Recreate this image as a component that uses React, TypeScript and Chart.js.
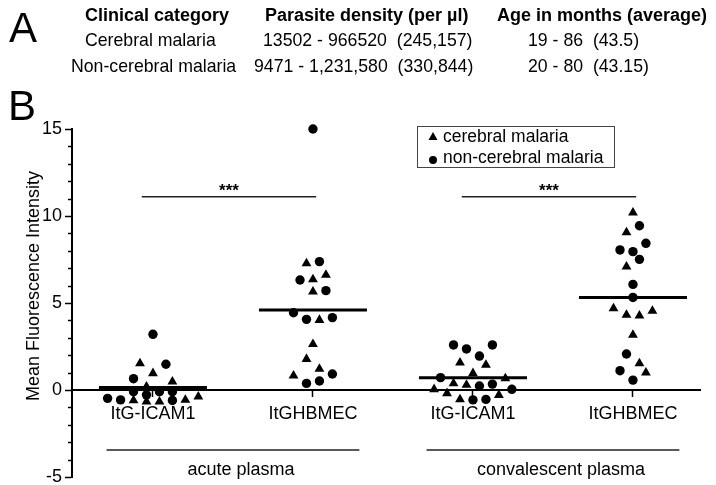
import React, { useEffect, useRef } from 'react';
import { Chart, registerables } from 'chart.js';

Chart.register(...registerables);

const FONT = '"Liberation Sans", Arial, Helvetica, sans-serif';

// ---------- Panel A (table) ----------
const tableHeaders = ['Clinical category', 'Parasite density (per µl)', 'Age in months (average)'];
const tableRowCerebral = ['Cerebral malaria', '13502 - 966520  (245,157)', '19 - 86  (43.5)'];
const tableRowNonCerebral = ['Non-cerebral malaria', '9471 - 1,231,580  (330,844)', '20 - 80  (43.15)'];

// ---------- Panel B (dot plot) ----------
const categories = ['ItG-ICAM1', 'ItGHBMEC', 'ItG-ICAM1', 'ItGHBMEC'];
const plasmaGroups = ['acute plasma', 'convalescent plasma'];
const seriesNames = ['cerebral malaria', 'non-cerebral malaria'];
const yMajorTicks = [-5, 0, 5, 10, 15];
const yTitle = 'Mean Fluorescence Intensity';

// values (MFI) and dot-plot column (in dot widths, relative to the category centre)
const cmAcuteIcam = [1.53, 0.96, 0.48, 0.19, -0.6, -0.67, -0.67, -0.57, -0.38];
const cmAcuteIcamCol = [-1, 0, 1.5, -0.5, -1.5, -0.5, 0.5, 2.5, 3.5];
const ncmAcuteIcam = [3.2, 1.48, 0.65, -0.1, -0.28, -0.1, -0.1, -0.48, -0.57, -0.6];
const ncmAcuteIcamCol = [0, 1, -1.5, -1.5, -0.5, 0.5, 1.5, -3.5, -2.5, 1.5];

const cmAcuteHbmec = [7.28, 6.36, 6.61, 5.65, 4.02, 2.63, 1.78, 0.82, 1.21];
const cmAcuteHbmecCol = [-0.5, 0, 1, 0, 0.5, 0, -0.5, -1.5, 0.5];
const ncmAcuteHbmec = [15.0, 7.38, 6.32, 5.71, 4.44, 4.06, 4.16, 0.92, 0.38, 0.52];
const ncmAcuteHbmecCol = [0, 0.5, -1, 1, -1.5, -0.5, 1.5, 1.5, -0.5, 0.5];

const cmConvIcam = [1.57, 1.44, 0.96, 0.67, 0.38, 0.29, 0.04, -0.19, -0.29, -0.54];
const cmConvIcamCol = [-1, 1, 0, 2.5, -1.5, -0.5, -3, -2, 2, -1];
const ncmConvIcam = [2.59, 2.36, 2.59, 1.95, 0.71, 0.23, 0.34, 0.04, -0.57, -0.54];
const ncmConvIcamCol = [-1.5, -0.5, 1.5, 0.5, -2.5, 0.5, 1.5, 3, 0, 1];

const cmConvHbmec = [10.19, 9.06, 7.09, 4.69, 4.31, 4.27, 4.54, 3.16, 1.53, 1.0];
const cmConvHbmecCol = [0, -0.5, -0.5, -1.5, -0.5, 0.5, 1.5, 0, 0.5, 1];
const ncmConvHbmec = [9.44, 8.43, 8.05, 7.95, 7.51, 6.07, 5.32, 2.07, 1.11, 0.57];
const ncmConvHbmecCol = [0.5, 1, -1, 0, 0.5, 0, 0, -0.5, -1, 0];

const groupMeans = [0.15, 4.6, 0.71, 5.32];
const sigPairs = [[1, 2], [3, 4]];
const sigLevel = 11.1;
const sigLabel = '***';
const bracketLevel = -3.45;

const cerebralGroups = [
  [cmAcuteIcam, cmAcuteIcamCol],
  [cmAcuteHbmec, cmAcuteHbmecCol],
  [cmConvIcam, cmConvIcamCol],
  [cmConvHbmec, cmConvHbmecCol],
];
const nonCerebralGroups = [
  [ncmAcuteIcam, ncmAcuteIcamCol],
  [ncmAcuteHbmec, ncmAcuteHbmecCol],
  [ncmConvIcam, ncmConvIcamCol],
  [ncmConvHbmec, ncmConvHbmecCol],
];

const DOT = 0.081; // one dot width in category units
const MEAN_HALF = 0.3375;
const BRACKET_EXT = 0.29;

function toPoints(groups: any[]) {
  const out: any[] = [];
  groups.forEach(([vals, cols]: any, gi: number) => {
    vals.forEach((v: number, i: number) => out.push({ x: gi + 1 + cols[i] * DOT, y: v }));
  });
  return out;
}

const annotate = {
  id: 'annotate',
  afterDraw(chart: any) {
    const { ctx, scales, chartArea } = chart;
    const xs = scales.x;
    const ys = scales.y;
    ctx.save();
    ctx.fillStyle = '#000';

    // panel letters
    ctx.textBaseline = 'alphabetic';
    ctx.textAlign = 'left';
    ctx.font = `42px ${FONT}`;
    ctx.fillText('A', 9, 42);
    ctx.fillText('B', 8, 120);

    // table
    ctx.font = `bold 18px ${FONT}`;
    ctx.textBaseline = 'middle';
    const hx = [85, 265, 497];
    tableHeaders.forEach((t, i) => ctx.fillText(t, hx[i], 16));
    ctx.font = `17.7px ${FONT}`;
    const r1 = [85, 263, 528];
    tableRowCerebral.forEach((t, i) => ctx.fillText(t, r1[i], 41));
    const r2 = [71, 254, 528];
    tableRowNonCerebral.forEach((t, i) => ctx.fillText(t, r2[i], 67));

    // y axis title
    ctx.save();
    ctx.translate(34, (chartArea.top + chartArea.bottom) / 2 - 17);
    ctx.rotate(-Math.PI / 2);
    ctx.textAlign = 'center';
    ctx.textBaseline = 'middle';
    ctx.font = `18px ${FONT}`;
    ctx.fillText(yTitle, 0, 0);
    ctx.restore();

    // minor ticks on y axis
    ctx.strokeStyle = '#000';
    ctx.lineWidth = 1.5;
    const left = chartArea.left;
    for (let v = yMajorTicks[0]; v <= yMajorTicks[yMajorTicks.length - 1]; v++) {
      if (yMajorTicks.includes(v)) continue;
      const py = Math.round(ys.getPixelForValue(v)) + 0.5;
      ctx.beginPath();
      ctx.moveTo(left - 4, py);
      ctx.lineTo(left, py);
      ctx.stroke();
    }

    // significance labels
    ctx.font = `bold 17px ${FONT}`;
    ctx.textAlign = 'center';
    ctx.textBaseline = 'alphabetic';
    sigPairs.forEach(([a, b]) => {
      const cx = (xs.getPixelForValue(a - 0.07) + xs.getPixelForValue(b + 0.02)) / 2;
      ctx.fillText(sigLabel, cx, ys.getPixelForValue(sigLevel) - 1);
    });

    // plasma group labels
    ctx.font = `18px ${FONT}`;
    ctx.textBaseline = 'middle';
    sigPairs.forEach(([a, b], i) => {
      const cx = (xs.getPixelForValue(a - BRACKET_EXT) + xs.getPixelForValue(b + BRACKET_EXT)) / 2 + 8;
      ctx.fillText(plasmaGroups[i], cx, ys.getPixelForValue(bracketLevel) + 20);
    });

    // legend
    ctx.strokeStyle = '#444';
    ctx.lineWidth = 1;
    ctx.strokeRect(417.5, 126.5, 197, 41);
    ctx.font = `17.5px ${FONT}`;
    ctx.textAlign = 'left';
    ctx.textBaseline = 'middle';
    ctx.beginPath();
    ctx.moveTo(433, 132);
    ctx.lineTo(437.5, 140);
    ctx.lineTo(428.5, 140);
    ctx.closePath();
    ctx.fill();
    ctx.fillText(seriesNames[0], 443, 137);
    ctx.beginPath();
    ctx.arc(433, 160, 4, 0, Math.PI * 2);
    ctx.fill();
    ctx.fillText(seriesNames[1], 443, 158);

    ctx.restore();
  },
};

export default function App() {
  const ref = useRef<HTMLCanvasElement | null>(null);

  useEffect(() => {
    if (!ref.current) return;
    const lineDs = (data: any[], width: number, color: string) => ({
      type: 'line',
      data,
      borderColor: color,
      borderWidth: width,
      pointRadius: 0,
      fill: false,
      showLine: true,
      clip: false,
    });

    const datasets: any[] = [
      {
        type: 'scatter',
        label: seriesNames[0],
        data: toPoints(cerebralGroups),
        pointStyle: 'triangle',
        pointRadius: 5.7,
        backgroundColor: '#000',
        borderColor: '#000',
        borderWidth: 0,
        clip: false,
      },
      {
        type: 'scatter',
        label: seriesNames[1],
        data: toPoints(nonCerebralGroups),
        pointStyle: 'circle',
        pointRadius: 4.7,
        backgroundColor: '#000',
        borderColor: '#000',
        borderWidth: 0,
        clip: false,
      },
    ];
    groupMeans.forEach((m, i) => {
      datasets.push(lineDs([{ x: i + 1 - MEAN_HALF, y: m }, { x: i + 1 + MEAN_HALF, y: m }], 3, '#000'));
    });
    sigPairs.forEach(([a, b]) => {
      datasets.push(lineDs([{ x: a - 0.07, y: sigLevel }, { x: b + 0.02, y: sigLevel }], 1.5, '#222'));
      datasets.push(lineDs([{ x: a - BRACKET_EXT, y: bracketLevel }, { x: b + BRACKET_EXT, y: bracketLevel }], 1.5, '#222'));
    });

    const chart = new Chart(ref.current, {
      type: 'scatter',
      data: { datasets },
      options: {
        animation: false,
        responsive: false,
        devicePixelRatio: 1,
        layout: { padding: { top: 129, bottom: 8, left: 0, right: 16 } },
        plugins: { legend: { display: false }, tooltip: { enabled: false } },
        scales: {
          x: {
            type: 'linear',
            min: 0.494,
            max: 4.419,
            position: { y: 0 },
            afterBuildTicks: (s: any) => {
              s.ticks = categories.map((_, i) => ({ value: i + 1 }));
            },
            afterFit: (s: any) => {
              s.paddingLeft = 0;
              s.paddingRight = 0;
              s.paddingTop = 0;
              s.paddingBottom = 0;
            },
            border: { display: true, color: '#000', width: 2 },
            grid: { drawOnChartArea: false, drawTicks: true, tickLength: 6, tickWidth: 1.5, tickColor: '#000' },
            ticks: {
              autoSkip: false,
              maxRotation: 0,
              minRotation: 0,
              padding: 7,
              color: '#000',
              font: { family: FONT, size: 18 },
              callback: (v: any) => categories[Math.round(v) - 1],
            },
          },
          y: {
            type: 'linear',
            min: yMajorTicks[0],
            max: yMajorTicks[yMajorTicks.length - 1],
            afterBuildTicks: (s: any) => {
              const t: any[] = [];
              for (let v = yMajorTicks[0]; v <= yMajorTicks[yMajorTicks.length - 1]; v++) t.push({ value: v });
              s.ticks = t;
            },
            afterFit: (s: any) => {
              s.width = 72;
              s.paddingTop = 0;
              s.paddingBottom = 0;
            },
            border: { display: true, color: '#000', width: 2 },
            grid: {
              drawOnChartArea: false,
              drawTicks: true,
              tickLength: 7,
              tickWidth: 1.5,
              tickColor: (c: any) => (c.tick && yMajorTicks.includes(c.tick.value) ? '#000' : 'rgba(0,0,0,0)'),
            },
            ticks: {
              autoSkip: false,
              padding: 3,
              color: '#000',
              font: { family: FONT, size: 18 },
              callback: (v: any) => (yMajorTicks.includes(v) ? String(v) : ''),
            },
            title: { display: false },
          },
        },
      },
      plugins: [annotate],
    } as any);
    return () => chart.destroy();
  }, []);

  return (
    <div style={{ position: 'absolute', left: 0, top: 0, width: 716, height: 485, background: '#fff' }}>
      <canvas ref={ref} width={716} height={485} />
    </div>
  );
}
